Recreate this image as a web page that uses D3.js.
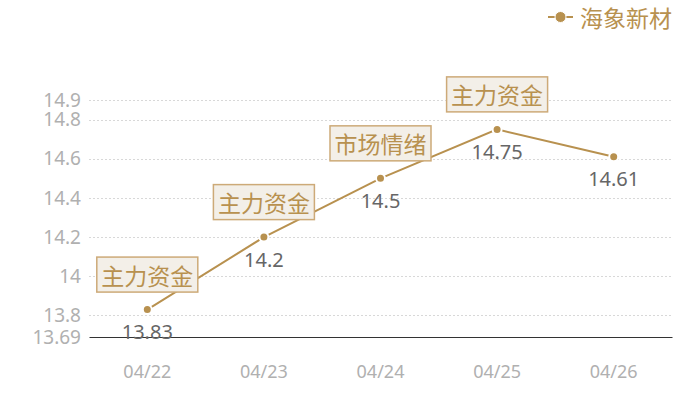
<!DOCTYPE html>
<html>
<head>
<meta charset="utf-8">
<script src="https://cdn.jsdelivr.net/npm/d3@7"></script>
<style>
  html, body { margin: 0; padding: 0; background: #fff; }
  svg { display: block; font-family: "Noto Sans CJK SC", "Noto Sans", sans-serif; }
</style>
</head>
<body>
<svg id="chart" width="700" height="400"></svg>
<script>
const dates = ["04/22", "04/23", "04/24", "04/25", "04/26"];
const prices = [13.83, 14.2, 14.5, 14.75, 14.61];
const notes = ["主力资金", "主力资金", "市场情绪", "主力资金", null];
const yTicks = [13.69, 13.8, 14, 14.2, 14.4, 14.6, 14.8, 14.9];
const seriesName = "海象新材";

const gold = "#b8914f";
const numFont = "'Noto Sans', 'Open Sans', sans-serif";

function drawChart() {
  const svg = d3.select("#chart");
  svg.selectAll("*").remove();

  const margin = { top: 100, right: 28, bottom: 63, left: 89 };
  const width = 700 - margin.left - margin.right;
  const height = 400 - margin.top - margin.bottom;

  const g = svg.append("g")
    .attr("transform", `translate(${margin.left},${margin.top})`);

  const x = d3.scaleBand()
    .domain(dates)
    .range([0, width]);

  const y = d3.scaleLinear()
    .domain([13.69, 14.9])
    .range([height, 0]);

  // grid lines
  g.append("g")
    .selectAll("line")
    .data(yTicks.slice(1))
    .join("line")
    .attr("x1", 0)
    .attr("x2", width)
    .attr("y1", d => Math.round(y(d)) + 0.5)
    .attr("y2", d => Math.round(y(d)) + 0.5)
    .attr("stroke", "#d8d8d8")
    .attr("stroke-dasharray", "2,2");

  // y axis labels
  const yAxis = g.append("g")
    .call(d3.axisLeft(y).tickValues(yTicks).tickSize(0).tickPadding(8).tickFormat(d => String(d)));
  yAxis.select(".domain").remove();
  yAxis.selectAll("text")
    .style("font-size", "19px")
    .style("font-family", numFont)
    .attr("fill", "#b0b0b0");

  // x axis
  const xAxis = g.append("g")
    .attr("transform", `translate(0,${height})`)
    .call(d3.axisBottom(x).tickSize(0).tickPadding(28));
  xAxis.select(".domain")
    .attr("stroke", "#333")
    .attr("stroke-width", 1);
  xAxis.selectAll("text")
    .style("font-size", "18px")
    .style("font-family", numFont)
    .attr("fill", "#b0b0b0");

  const cx = d => x(d) + x.bandwidth() / 2;

  // line
  const line = d3.line()
    .x((d, i) => cx(dates[i]))
    .y(d => y(d));

  g.append("path")
    .datum(prices)
    .attr("fill", "none")
    .attr("stroke", gold)
    .attr("stroke-width", 2)
    .attr("d", line);

  // points
  g.selectAll("circle.pt")
    .data(prices)
    .join("circle")
    .attr("class", "pt")
    .attr("cx", (d, i) => cx(dates[i]))
    .attr("cy", d => y(d))
    .attr("r", 4.5)
    .attr("fill", gold)
    .attr("stroke", "#fff")
    .attr("stroke-width", 2);

  // value labels
  g.selectAll("text.val")
    .data(prices)
    .join("text")
    .attr("class", "val")
    .attr("x", (d, i) => cx(dates[i]))
    .attr("y", d => y(d) + 22)
    .attr("text-anchor", "middle")
    .attr("dominant-baseline", "central")
    .style("font-size", "20px")
    .style("font-family", numFont)
    .attr("fill", "#666")
    .text(d => d);

  // annotation boxes
  const ann = g.selectAll("g.note")
    .data(prices.map((p, i) => ({ p, i, note: notes[i] })).filter(d => d.note))
    .join("g")
    .attr("class", "note")
    .attr("transform", d => `translate(${cx(dates[d.i])},${y(d.p) - 35})`);

  ann.append("rect")
    .attr("x", -50.5)
    .attr("y", -17.5)
    .attr("width", 101)
    .attr("height", 35)
    .attr("fill", "#f3efe8")
    .attr("stroke", "#cdaa78")
    .attr("stroke-width", 1.5);

  ann.append("text")
    .attr("text-anchor", "middle")
    .attr("dominant-baseline", "central")
    .attr("y", 0)
    .style("font-size", "23px")
    .attr("fill", gold)
    .text(d => d.note);

  // legend
  const leg = svg.append("g").attr("transform", "translate(548,17)");
  leg.append("line")
    .attr("x1", 0).attr("x2", 25)
    .attr("stroke", gold).attr("stroke-width", 2);
  leg.append("circle")
    .attr("cx", 12.5).attr("r", 5.5)
    .attr("fill", gold).attr("stroke", "#fff").attr("stroke-width", 1);
  leg.append("text")
    .attr("x", 32)
    .attr("dominant-baseline", "central")
    .style("font-size", "23px")
    .attr("fill", gold)
    .text(seriesName);
}

window.addEventListener("DOMContentLoaded", drawChart);
</script>
</body>
</html>
